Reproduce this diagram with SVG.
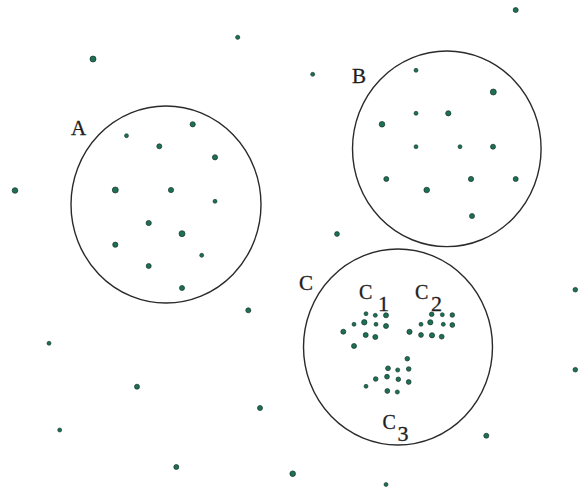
<svg xmlns="http://www.w3.org/2000/svg" width="588" height="488" viewBox="0 0 588 488">
  <style>
    .ring { fill: none; stroke: #2a2a2a; stroke-width: 1.4; }
    .pt { fill: #1c7056; stroke: #17322a; stroke-width: 0.7; }
    .sm { fill: #1c7056; stroke: #17322a; stroke-width: 0.6; }
    .lbl { font-family: "Liberation Serif", "DejaVu Serif", serif; fill: #1e1e1e; stroke: #1e1e1e; stroke-width: 0.3; }
    .big { font-size: 21px; }
    .sub { font-size: 20px; }
    .idx { font-size: 22px; }
  </style>
  <rect width="588" height="488" fill="#ffffff"/>

  <!-- cluster A -->
  <g id="cluster-A">
    <ellipse class="ring" cx="166" cy="204.5" rx="95" ry="98.5"/>
    <text class="lbl big" x="71" y="134.5">A</text>
    <circle class="sm" cx="126.5" cy="135.7" r="2"/>
    <circle class="pt" cx="192.7" cy="124.3" r="2.6"/>
    <circle class="pt" cx="159.3" cy="146.3" r="2.5"/>
    <circle class="pt" cx="215" cy="157.3" r="2.6"/>
    <circle class="pt" cx="115.3" cy="190" r="3"/>
    <circle class="pt" cx="171" cy="190" r="2.6"/>
    <circle class="sm" cx="215" cy="201.3" r="2"/>
    <circle class="pt" cx="148.7" cy="223" r="2.6"/>
    <circle class="pt" cx="182" cy="233.7" r="3"/>
    <circle class="pt" cx="115.3" cy="244.7" r="2.6"/>
    <circle class="sm" cx="201.7" cy="255.3" r="2"/>
    <circle class="pt" cx="148.7" cy="266" r="2.5"/>
    <circle class="pt" cx="182" cy="288" r="2.5"/>
  </g>

  <!-- cluster B -->
  <g id="cluster-B">
    <ellipse class="ring" cx="446.8" cy="148.8" rx="94.3" ry="97.8"/>
    <text class="lbl big" x="352" y="82.5">B</text>
    <circle class="sm" cx="416" cy="70.3" r="2"/>
    <circle class="pt" cx="493.3" cy="92" r="3"/>
    <circle class="sm" cx="416" cy="113.3" r="2"/>
    <circle class="pt" cx="448.3" cy="113.3" r="2.6"/>
    <circle class="pt" cx="382" cy="124.3" r="2.8"/>
    <circle class="sm" cx="416" cy="146.7" r="2"/>
    <circle class="sm" cx="460" cy="146.7" r="2"/>
    <circle class="pt" cx="493" cy="146.7" r="2.5"/>
    <circle class="pt" cx="386.3" cy="179" r="2.5"/>
    <circle class="pt" cx="471" cy="179" r="2.6"/>
    <circle class="pt" cx="515.7" cy="179" r="2.5"/>
    <circle class="pt" cx="426.7" cy="190" r="2.8"/>
    <circle class="pt" cx="472" cy="216" r="2.5"/>
  </g>

  <!-- cluster C with its three sub-clusters -->
  <g id="cluster-C">
    <ellipse class="ring" cx="398" cy="347" rx="94.5" ry="98"/>
    <text class="lbl big" x="299" y="289.5">C</text>
  </g>

  <g id="cluster-C1">
    <text class="lbl" x="359" y="298.5"><tspan class="sub">C</tspan><tspan class="idx" x="378" y="311">1</tspan></text>
    <circle class="sm" cx="366" cy="313.7" r="2"/>
    <circle class="sm" cx="375.3" cy="315.3" r="2"/>
    <circle class="pt" cx="386" cy="315.3" r="2.5"/>
    <circle class="pt" cx="364.3" cy="322.3" r="2.7"/>
    <circle class="sm" cx="354" cy="324.3" r="2"/>
    <circle class="sm" cx="376" cy="324.3" r="2"/>
    <circle class="pt" cx="386" cy="326" r="2.5"/>
    <circle class="pt" cx="343.3" cy="331.7" r="2.5"/>
    <circle class="pt" cx="365.7" cy="335" r="2.5"/>
    <circle class="pt" cx="375.3" cy="337" r="2.5"/>
    <circle class="pt" cx="354" cy="346" r="2.5"/>
  </g>

  <g id="cluster-C2">
    <text class="lbl" x="415" y="298.5"><tspan class="sub">C</tspan><tspan class="idx" x="431" y="311">2</tspan></text>
    <circle class="pt" cx="431.7" cy="314.3" r="2.3"/>
    <circle class="sm" cx="442.3" cy="314.7" r="2"/>
    <circle class="pt" cx="452.3" cy="315" r="2.3"/>
    <circle class="sm" cx="421" cy="324.3" r="2"/>
    <circle class="pt" cx="430.3" cy="322.3" r="2.6"/>
    <circle class="sm" cx="443.3" cy="324.3" r="2"/>
    <circle class="pt" cx="452.3" cy="325" r="2.4"/>
    <circle class="pt" cx="409.5" cy="331.8" r="2.6"/>
    <circle class="pt" cx="421" cy="335" r="2.4"/>
    <circle class="pt" cx="432" cy="335.3" r="2.6"/>
    <circle class="pt" cx="441.7" cy="336.7" r="2.4"/>
  </g>

  <g id="cluster-C3">
    <text class="lbl" x="382.5" y="428.5"><tspan class="sub">C</tspan><tspan class="idx" x="397.5" y="441">3</tspan></text>
    <circle class="pt" cx="407.3" cy="358.7" r="2.3"/>
    <circle class="pt" cx="388" cy="368.3" r="2.4"/>
    <circle class="sm" cx="397.7" cy="370" r="2.1"/>
    <circle class="pt" cx="408.7" cy="369" r="2.3"/>
    <circle class="pt" cx="375.7" cy="379" r="2.3"/>
    <circle class="pt" cx="387" cy="376.7" r="2.4"/>
    <circle class="pt" cx="398.3" cy="379.3" r="2.3"/>
    <circle class="pt" cx="408.7" cy="382" r="2.4"/>
    <circle class="sm" cx="366" cy="386.3" r="2"/>
    <circle class="pt" cx="387.3" cy="391" r="2.4"/>
    <circle class="sm" cx="397.3" cy="392" r="2.1"/>
  </g>

  <!-- scattered points outside every cluster -->
  <g id="outliers">
    <circle class="pt" cx="515.7" cy="10" r="2.5"/>
    <circle class="sm" cx="237.7" cy="37.3" r="2.1"/>
    <circle class="pt" cx="93" cy="59" r="3"/>
    <circle class="sm" cx="312.7" cy="74.3" r="2"/>
    <circle class="pt" cx="15" cy="190.5" r="2.8"/>
    <circle class="pt" cx="337" cy="234" r="2.4"/>
    <circle class="pt" cx="248.3" cy="310.3" r="2.5"/>
    <circle class="sm" cx="49" cy="343.3" r="2"/>
    <circle class="pt" cx="137" cy="386.7" r="2.5"/>
    <circle class="pt" cx="260" cy="408" r="2.5"/>
    <circle class="sm" cx="59.7" cy="430" r="2"/>
    <circle class="pt" cx="176.3" cy="467" r="2.5"/>
    <circle class="pt" cx="292.7" cy="473.7" r="2.8"/>
    <circle class="sm" cx="386" cy="484.5" r="2"/>
    <circle class="pt" cx="575.3" cy="289.7" r="2.3"/>
    <circle class="pt" cx="575.3" cy="369.7" r="2.3"/>
    <circle class="pt" cx="486.3" cy="435.7" r="2.5"/>
  </g>
</svg>
